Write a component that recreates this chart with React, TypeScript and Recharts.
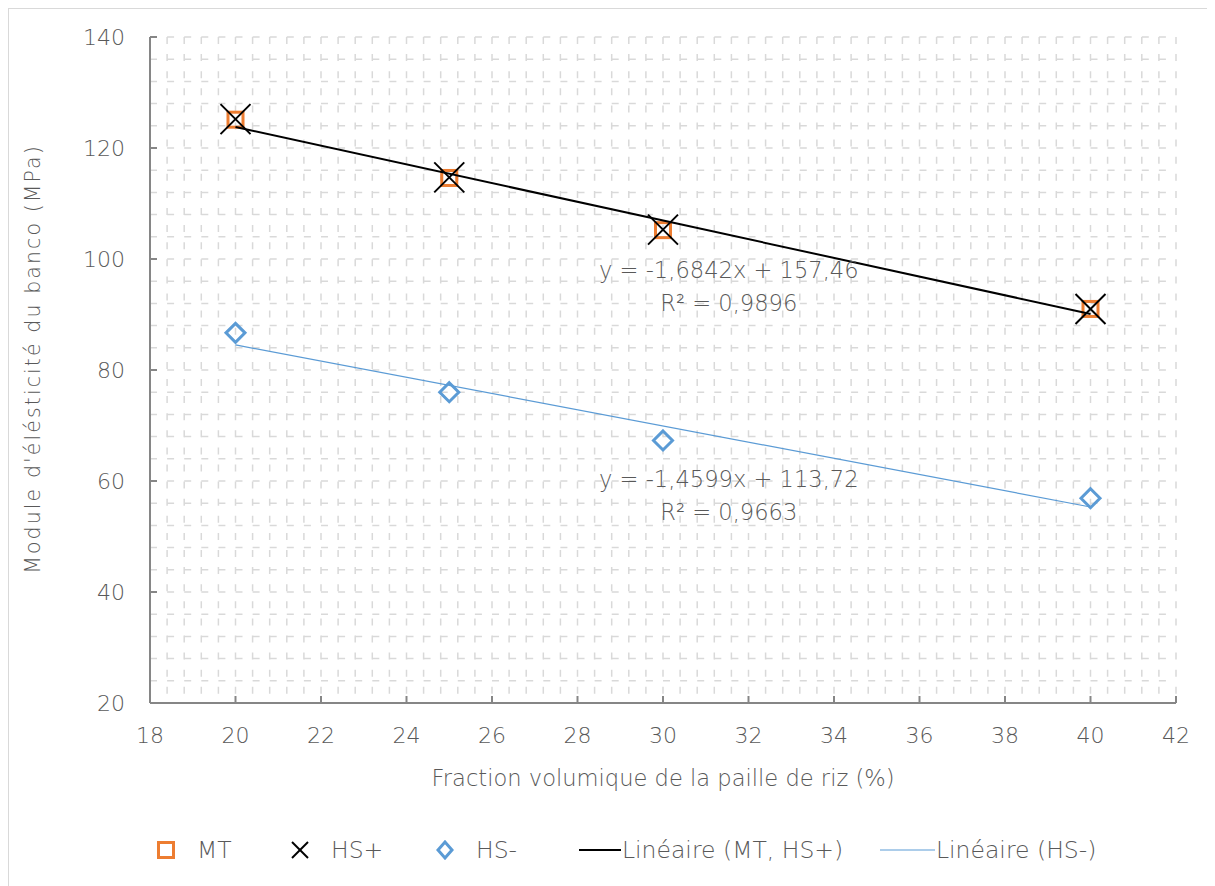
import React from 'react';
import { ComposedChart, Scatter, XAxis, YAxis, CartesianGrid, ReferenceDot } from 'recharts';

const fractions = [20, 25, 30, 40];
const mtValues = [125.1, 114.6, 105.2, 91.0];
const hsPlusValues = [125.2, 114.7, 105.3, 91.0];
const hsMinusValues = [86.7, 76.0, 67.3, 56.9];
const trendX = [20, 40];
const trendMtHsPlus = [123.78, 90.09];
const trendHsMinus = [84.52, 55.32];
const xTicks = [18, 20, 22, 24, 26, 28, 30, 32, 34, 36, 38, 40, 42];
const yTicks = [20, 40, 60, 80, 100, 120, 140];
const eqMt = 'y = -1,6842x + 157,46';
const r2Mt = 'R² = 0,9896';
const eqHs = 'y = -1,4599x + 113,72';
const r2Hs = 'R² = 0,9663';
const xTitle = 'Fraction volumique de la paille de riz (%)';
const yTitle = "Module d'élésticité du banco (MPa)";

const FONT = '"DejaVu Sans", sans-serif';
const FW = 300;
const TEXT = '#595959';
const ORANGE = '#ED7D31';
const BLUE = '#5B9BD5';

const toPts = (xs: number[], ys: number[]) => xs.map((x, i) => ({ x, y: ys[i] }));
const mtData = toPts(fractions, mtValues);
const hsPlusData = toPts(fractions, hsPlusValues);
const hsMinusData = toPts(fractions, hsMinusValues);
const trend1 = toPts(trendX, trendMtHsPlus);
const trend2 = toPts(trendX, trendHsMinus);

const vGrid: number[] = [];
for (let i = 0; i <= 60; i++) vGrid.push(+(18 + 0.4 * i).toFixed(2));
const hGrid: number[] = [];
for (let i = 0; i <= 30; i++) hGrid.push(20 + 4 * i);

const Square = (p: any) => (
  <rect x={p.cx - 7.5} y={p.cy - 7.5} width={15} height={15} fill="none" stroke={ORANGE} strokeWidth={3} />
);
const Cross = (p: any) => (
  <g stroke="#000" strokeWidth={2}>
    <line x1={p.cx - 15} y1={p.cy - 15} x2={p.cx + 15} y2={p.cy + 15} />
    <line x1={p.cx - 15} y1={p.cy + 15} x2={p.cx + 15} y2={p.cy - 15} />
  </g>
);
const Diamond = (p: any) => (
  <path d={`M${p.cx},${p.cy - 9.5} L${p.cx + 9.5},${p.cy} L${p.cx},${p.cy + 9.5} L${p.cx - 9.5},${p.cy} Z`} fill="none" stroke={BLUE} strokeWidth={3} />
);
const Nothing = () => <g />;

const YTitle = (props: any) => {
  const vb = props.viewBox || {};
  const cx = vb.x + 24;
  const cy = vb.y + vb.height / 2 - 11;
  return (
    <text x={cx} y={cy} transform={`rotate(-90, ${cx}, ${cy})`} textAnchor="middle" dominantBaseline="central"
      fill={TEXT} fontSize={20.5} fontFamily={FONT} fontWeight={FW} letterSpacing={2.1}>
      {yTitle}
    </text>
  );
};

const legendText: React.CSSProperties = { position: 'absolute', top: 0, lineHeight: '30px', fontFamily: FONT, fontWeight: FW, fontSize: 23.5, color: TEXT, whiteSpace: 'nowrap' };
const iconStyle: React.CSSProperties = { position: 'absolute', top: 5 };
const lbl = { fill: TEXT, fontSize: 22.6, fontFamily: FONT, fontWeight: FW };

export default function App() {
  return (
    <div style={{ position: 'relative', width: 1205, height: 890, border: '1px solid #d9d9d9', boxSizing: 'border-box', background: '#fff' }}>
      <ComposedChart width={1203} height={876} margin={{ top: 28, right: 36, left: 0, bottom: 82 }}>
        <CartesianGrid
          stroke="#d9d9d9"
          strokeWidth={1.5}
          horizontalValues={hGrid}
          verticalValues={vGrid}
          strokeDasharray="7 10.1"
        />
        <XAxis
          type="number"
          dataKey="x"
          domain={[18, 42]}
          ticks={xTicks}
          interval={0}
          height={100}
          stroke="#868686"
          strokeWidth={2}
          tickSize={-7}
          tickMargin={31}
          tick={{ fill: TEXT, fontSize: 22, fontFamily: FONT, fontWeight: FW }}
          label={{ value: xTitle, position: 'insideBottom', offset: 17, ...lbl }}
        />
        <YAxis
          type="number"
          dataKey="y"
          domain={[20, 140]}
          ticks={yTicks}
          interval={0}
          width={141}
          stroke="#868686"
          strokeWidth={2}
          tickSize={-7}
          tickMargin={32}
          tick={{ fill: TEXT, fontSize: 22, fontFamily: FONT, fontWeight: FW }}
          label={{ content: YTitle, position: 'insideLeft' }}
        />
        <Scatter name="MT" data={mtData} shape={Square} isAnimationActive={false} />
        <Scatter name="HS+" data={hsPlusData} shape={Cross} isAnimationActive={false} />
        <Scatter name="HS-" data={hsMinusData} shape={Diamond} isAnimationActive={false} />
        <Scatter name="Linéaire (MT, HS+)" data={trend1} shape={Nothing} line={{ stroke: '#000', strokeWidth: 2 }} isAnimationActive={false} />
        <Scatter name="Linéaire (HS-)" data={trend2} shape={Nothing} line={{ stroke: BLUE, strokeWidth: 1.2 }} isAnimationActive={false} />
        <ReferenceDot x={31.54} y={98.0} r={0} stroke="none" label={{ value: eqMt, position: 'center', ...lbl }} />
        <ReferenceDot x={31.54} y={92.1} r={0} stroke="none" label={{ value: r2Mt, position: 'center', ...lbl }} />
        <ReferenceDot x={31.54} y={60.4} r={0} stroke="none" label={{ value: eqHs, position: 'center', ...lbl }} />
        <ReferenceDot x={31.54} y={54.4} r={0} stroke="none" label={{ value: r2Hs, position: 'center', ...lbl }} />
      </ComposedChart>
      <div style={{ position: 'absolute', left: -9, top: 826, width: 1200, height: 30 }}>
        <svg width={20} height={20} style={{ ...iconStyle, left: 156 }}><rect x={2.5} y={2.5} width={15} height={15} fill="none" stroke={ORANGE} strokeWidth={3} /></svg>
        <span style={{ ...legendText, left: 197 }}>MT</span>
        <svg width={20} height={20} style={{ ...iconStyle, left: 290 }}><line x1={2} y1={2} x2={18} y2={18} stroke="#000" strokeWidth={2} /><line x1={2} y1={18} x2={18} y2={2} stroke="#000" strokeWidth={2} /></svg>
        <span style={{ ...legendText, left: 331 }}>HS+</span>
        <svg width={20} height={20} style={{ ...iconStyle, left: 435 }}><path d="M10,2 L17,10 L10,18 L3,10 Z" fill="none" stroke={BLUE} strokeWidth={3} /></svg>
        <span style={{ ...legendText, left: 476 }}>HS-</span>
        <svg width={42} height={20} style={{ ...iconStyle, left: 579 }}><line x1={0} y1={10} x2={42} y2={10} stroke="#000" strokeWidth={2} /></svg>
        <span style={{ ...legendText, left: 622 }}>Linéaire (MT, HS+)</span>
        <svg width={55} height={20} style={{ ...iconStyle, left: 880 }}><line x1={0} y1={10} x2={55} y2={10} stroke={BLUE} strokeWidth={1.2} /></svg>
        <span style={{ ...legendText, left: 936 }}>Linéaire (HS-)</span>
      </div>
    </div>
  );
}
